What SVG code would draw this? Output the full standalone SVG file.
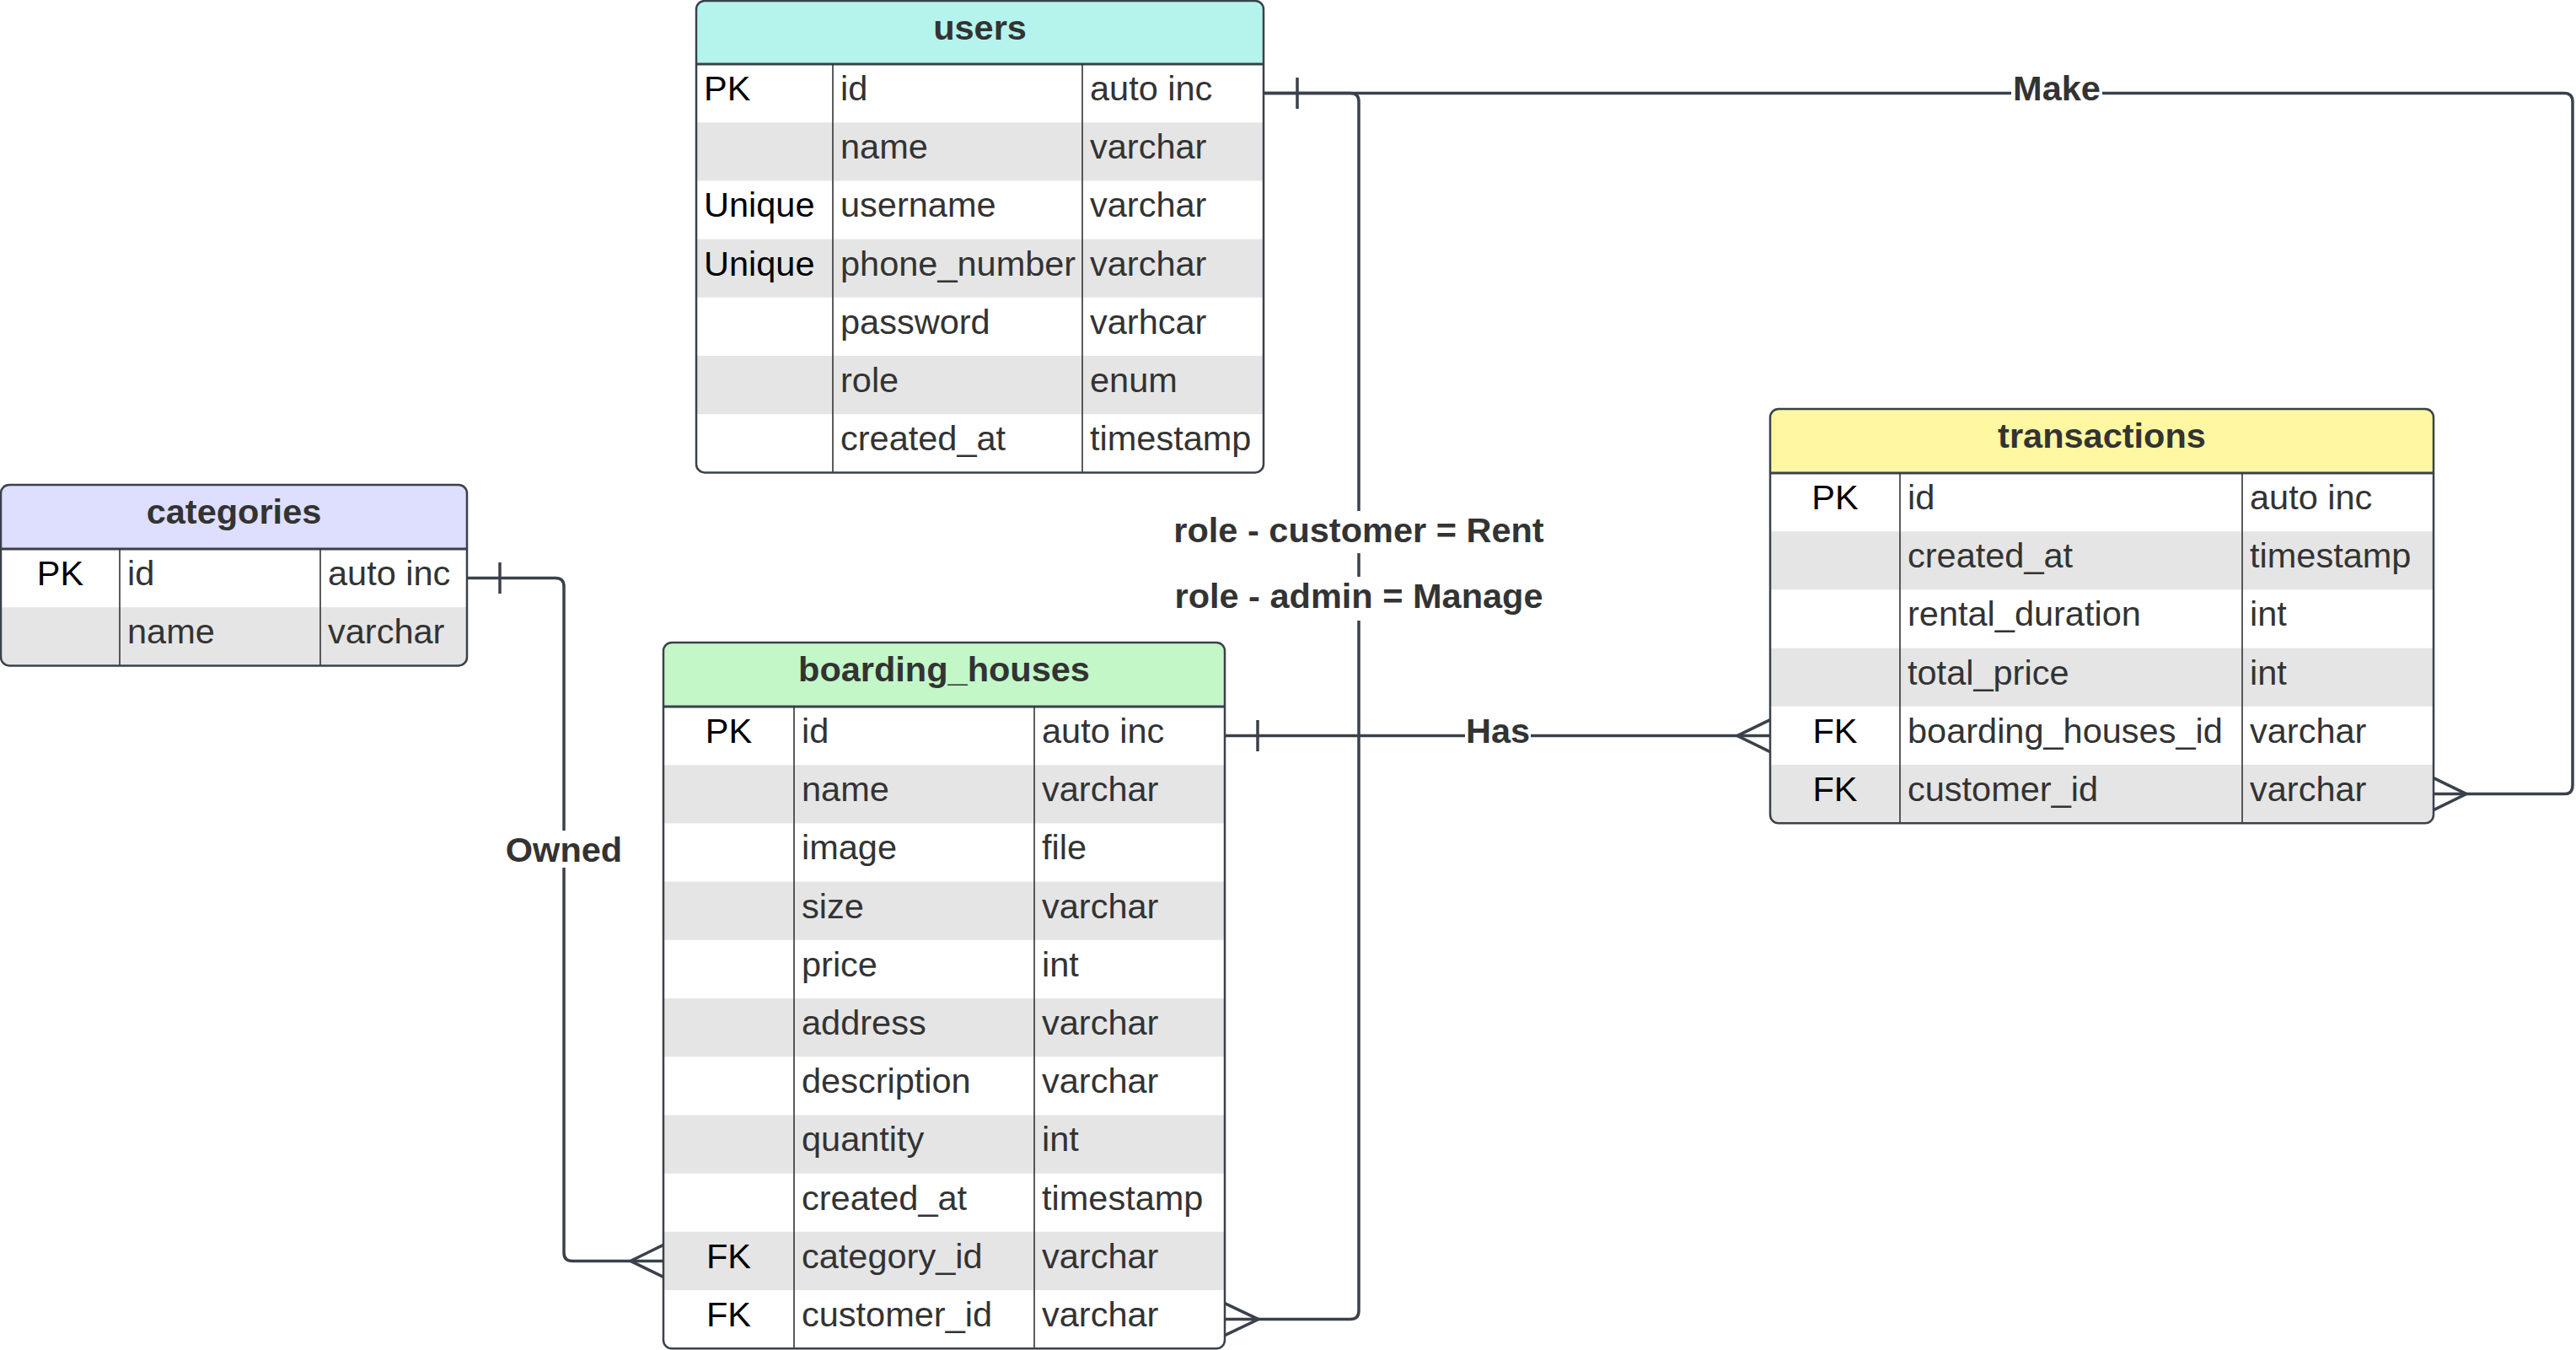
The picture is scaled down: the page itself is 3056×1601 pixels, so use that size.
<svg xmlns="http://www.w3.org/2000/svg" width="3056" height="1601" viewBox="0 0 3056 1601">
<style>
text{font-family:"Liberation Sans",Arial,sans-serif;font-size:41.5px}
.title{font-weight:bold;fill:#333333;text-anchor:middle}
.key{fill:#000000}
.keyc{fill:#000000;text-anchor:middle}
.f{fill:#333333}
.lbl{font-weight:bold;fill:#333333;text-anchor:middle}
.outline{fill:none;stroke:#3a414a;stroke-width:2.5}
.hdrline{stroke:#3a414a;stroke-width:3}
.col{stroke:#333333;stroke-width:1.6}
.alt{fill:#e5e5e5}
.conn{fill:none;stroke:#3a414a;stroke-width:3.5}
.mark{fill:none;stroke:#3a414a;stroke-width:3.5}
.bg{fill:#ffffff}
</style>
<defs>
<clipPath id="cu"><rect x="826" y="1" width="673" height="559.4" rx="10"/></clipPath>
<clipPath id="cc"><rect x="1" y="575" width="553" height="214.4" rx="10"/></clipPath>
<clipPath id="cb"><rect x="787" y="762" width="666" height="837.2" rx="10"/></clipPath>
<clipPath id="ct"><rect x="2100" y="485" width="787" height="491.2" rx="10"/></clipPath>
</defs>
<rect width="3056" height="1601" fill="#ffffff"/>

<g id="users">
<g clip-path="url(#cu)">
<rect x="826" y="1" width="673" height="559.4" fill="#ffffff"/>
<rect x="826" y="1" width="673" height="75" fill="#b4f4ec"/>
<rect class="alt" x="826" y="145.2" width="673" height="69.2"/>
<rect class="alt" x="826" y="283.6" width="673" height="69.2"/>
<rect class="alt" x="826" y="422" width="673" height="69.2"/>
</g>
<line class="hdrline" x1="826" y1="76" x2="1499" y2="76"/>
<line class="col" x1="988" y1="76" x2="988" y2="560.4"/>
<line class="col" x1="1284" y1="76" x2="1284" y2="560.4"/>
<rect class="outline" x="826" y="1" width="673" height="559.4" rx="10"/>
<text class="title" x="1162.5" y="47">users</text>
<text class="key" x="835" y="119">PK</text>
<text class="key" x="835" y="257.4">Unique</text>
<text class="key" x="835" y="326.6">Unique</text>
<text class="f" x="997" y="119">id</text>
<text class="f" x="997" y="188.2">name</text>
<text class="f" x="997" y="257.4">username</text>
<text class="f" x="997" y="326.6">phone_number</text>
<text class="f" x="997" y="395.8">password</text>
<text class="f" x="997" y="465">role</text>
<text class="f" x="997" y="534.2">created_at</text>
<text class="f" x="1293" y="119">auto inc</text>
<text class="f" x="1293" y="188.2">varchar</text>
<text class="f" x="1293" y="257.4">varchar</text>
<text class="f" x="1293" y="326.6">varchar</text>
<text class="f" x="1293" y="395.8">varhcar</text>
<text class="f" x="1293" y="465">enum</text>
<text class="f" x="1293" y="534.2">timestamp</text>
</g>

<g id="categories">
<g clip-path="url(#cc)">
<rect x="1" y="575" width="553" height="214.4" fill="#ffffff"/>
<rect x="1" y="575" width="553" height="76" fill="#dedeff"/>
<rect class="alt" x="1" y="720.2" width="553" height="69.2"/>
</g>
<line class="hdrline" x1="1" y1="651" x2="554" y2="651"/>
<line class="col" x1="142" y1="651" x2="142" y2="789.4"/>
<line class="col" x1="380" y1="651" x2="380" y2="789.4"/>
<rect class="outline" x="1" y="575" width="553" height="214.4" rx="10"/>
<text class="title" x="277.5" y="621">categories</text>
<text class="keyc" x="71.5" y="694">PK</text>
<text class="f" x="151" y="694">id</text>
<text class="f" x="151" y="763.2">name</text>
<text class="f" x="389" y="694">auto inc</text>
<text class="f" x="389" y="763.2">varchar</text>
</g>

<g id="boarding_houses">
<g clip-path="url(#cb)">
<rect x="787" y="762" width="666" height="837.2" fill="#ffffff"/>
<rect x="787" y="762" width="666" height="76" fill="#c3f7c8"/>
<rect class="alt" x="787" y="907.2" width="666" height="69.2"/>
<rect class="alt" x="787" y="1045.6" width="666" height="69.2"/>
<rect class="alt" x="787" y="1184" width="666" height="69.2"/>
<rect class="alt" x="787" y="1322.4" width="666" height="69.2"/>
<rect class="alt" x="787" y="1460.8" width="666" height="69.2"/>
</g>
<line class="hdrline" x1="787" y1="838" x2="1453" y2="838"/>
<line class="col" x1="942" y1="838" x2="942" y2="1599.2"/>
<line class="col" x1="1227" y1="838" x2="1227" y2="1599.2"/>
<rect class="outline" x="787" y="762" width="666" height="837.2" rx="10"/>
<text class="title" x="1120" y="808">boarding_houses</text>
<text class="keyc" x="864.5" y="881">PK</text>
<text class="keyc" x="864.5" y="1503.8">FK</text>
<text class="keyc" x="864.5" y="1573">FK</text>
<text class="f" x="951" y="881">id</text>
<text class="f" x="951" y="950.2">name</text>
<text class="f" x="951" y="1019.4">image</text>
<text class="f" x="951" y="1088.6">size</text>
<text class="f" x="951" y="1157.8">price</text>
<text class="f" x="951" y="1227">address</text>
<text class="f" x="951" y="1296.2">description</text>
<text class="f" x="951" y="1365.4">quantity</text>
<text class="f" x="951" y="1434.6">created_at</text>
<text class="f" x="951" y="1503.8">category_id</text>
<text class="f" x="951" y="1573">customer_id</text>
<text class="f" x="1236" y="881">auto inc</text>
<text class="f" x="1236" y="950.2">varchar</text>
<text class="f" x="1236" y="1019.4">file</text>
<text class="f" x="1236" y="1088.6">varchar</text>
<text class="f" x="1236" y="1157.8">int</text>
<text class="f" x="1236" y="1227">varchar</text>
<text class="f" x="1236" y="1296.2">varchar</text>
<text class="f" x="1236" y="1365.4">int</text>
<text class="f" x="1236" y="1434.6">timestamp</text>
<text class="f" x="1236" y="1503.8">varchar</text>
<text class="f" x="1236" y="1573">varchar</text>
</g>

<g id="transactions">
<g clip-path="url(#ct)">
<rect x="2100" y="485" width="787" height="491.2" fill="#ffffff"/>
<rect x="2100" y="485" width="787" height="76" fill="#fff7a1"/>
<rect class="alt" x="2100" y="630.2" width="787" height="69.2"/>
<rect class="alt" x="2100" y="768.6" width="787" height="69.2"/>
<rect class="alt" x="2100" y="907" width="787" height="69.2"/>
</g>
<line class="hdrline" x1="2100" y1="561" x2="2887" y2="561"/>
<line class="col" x1="2254" y1="561" x2="2254" y2="976.2"/>
<line class="col" x1="2660" y1="561" x2="2660" y2="976.2"/>
<rect class="outline" x="2100" y="485" width="787" height="491.2" rx="10"/>
<text class="title" x="2493.5" y="531">transactions</text>
<text class="keyc" x="2177" y="604">PK</text>
<text class="keyc" x="2177" y="880.8">FK</text>
<text class="keyc" x="2177" y="950">FK</text>
<text class="f" x="2263" y="604">id</text>
<text class="f" x="2263" y="673.2">created_at</text>
<text class="f" x="2263" y="742.4">rental_duration</text>
<text class="f" x="2263" y="811.6">total_price</text>
<text class="f" x="2263" y="880.8">boarding_houses_id</text>
<text class="f" x="2263" y="950">customer_id</text>
<text class="f" x="2669" y="604">auto inc</text>
<text class="f" x="2669" y="673.2">timestamp</text>
<text class="f" x="2669" y="742.4">int</text>
<text class="f" x="2669" y="811.6">int</text>
<text class="f" x="2669" y="880.8">varchar</text>
<text class="f" x="2669" y="950">varchar</text>
</g>

<g id="connectors">
<path class="conn" d="M1499,110.6 H3042 Q3052,110.6 3052,120.6 V931.6 Q3052,941.6 3042,941.6 H2887"/>
<path class="conn" d="M1499,110.6 H1602 Q1612,110.6 1612,120.6 V1554.6 Q1612,1564.6 1602,1564.6 H1453"/>
<path class="conn" d="M1453,872.6 H2100"/>
<path class="conn" d="M554,685.6 H659 Q669,685.6 669,695.6 V1485.4 Q669,1495.4 679,1495.4 H787"/>
<line class="mark" x1="1539" y1="92" x2="1539" y2="129"/>
<line class="mark" x1="1492" y1="854" x2="1492" y2="891"/>
<line class="mark" x1="593" y1="667" x2="593" y2="704"/>
<path class="mark" d="M2887,922.6 L2926,941.6 L2887,960.6"/>
<path class="mark" d="M1453,1545.6 L1493,1564.6 L1453,1583.6"/>
<path class="mark" d="M2100,853.6 L2061,872.6 L2100,891.6"/>
<path class="mark" d="M787,1476.4 L748,1495.4 L787,1514.4"/>
<rect class="bg" x="2386" y="84" width="108" height="42"/>
<text class="lbl" x="2440" y="118.5">Make</text>
<rect class="bg" x="1392" y="606" width="440" height="50"/>
<text class="lbl" x="1612" y="643">role - customer = Rent</text>
<rect class="bg" x="1392" y="684" width="440" height="52"/>
<text class="lbl" x="1612" y="721">role - admin = Manage</text>
<rect class="bg" x="1738" y="846" width="78" height="42"/>
<text class="lbl" x="1777" y="881">Has</text>
<rect class="bg" x="600" y="985" width="138" height="44"/>
<text class="lbl" x="669" y="1022">Owned</text>
</g>
</svg>
